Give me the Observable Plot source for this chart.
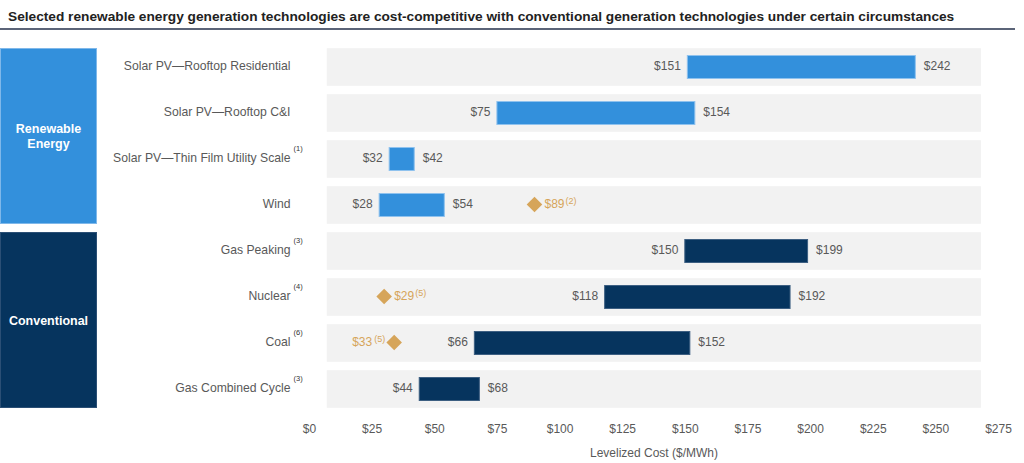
<!DOCTYPE html>
<html>
<head>
<meta charset="utf-8">
<script src="https://cdn.jsdelivr.net/npm/d3@7"></script>
<script src="https://cdn.jsdelivr.net/npm/@observablehq/plot@0.6"></script>
<style>
  html, body { margin: 0; padding: 0; background: #fff; }
  body { width: 1024px; height: 463px; overflow: hidden; font-family: "Liberation Sans", Arial, sans-serif; }
  #title { height: 28px; margin: 0 9px 0 0; border-bottom: 2px solid #5b6478; font-weight: bold; font-size: 13.7px; color: #222; padding-left: 8px; line-height: 34px; box-sizing: content-box; }
  #chart { margin-top: 3px; }
  #chart svg { display: block; }
</style>
</head>
<body>
<div id="title">Selected renewable energy generation technologies are cost-competitive with conventional generation technologies under certain circumstances</div>
<div id="chart"></div>
<script>
// ---- data ----
const categories = [
  "Solar PV\u2014Rooftop Residential",
  "Solar PV\u2014Rooftop C&I",
  "Solar PV\u2014Thin Film Utility Scale",
  "Wind",
  "Gas Peaking",
  "Nuclear",
  "Coal",
  "Gas Combined Cycle"
];
const groupOf = ["Renewable", "Renewable", "Renewable", "Renewable", "Conventional", "Conventional", "Conventional", "Conventional"];
const lowCost = [151, 75, 32, 28, 150, 118, 66, 44];
const highCost = [242, 154, 42, 54, 199, 192, 152, 68];
const footnotes = ["", "", "(1)", "", "(3)", "(4)", "(6)", "(3)"];

const markerCats = ["Wind", "Nuclear", "Coal"];
const markerValues = [89, 29, 33];
const markerNotes = ["(2)", "(5)", "(5)"];
const markerSide = ["right", "right", "left"];

const groupNames = ["Renewable", "Conventional"];
const groupLabels = [["Renewable", "Energy"], ["Conventional"]];

const xTicks = [0, 25, 50, 75, 100, 125, 150, 175, 200, 225, 250, 275];

// ---- build tables ----
const rows = categories.map((c, i) => ({cat: c, group: groupOf[i], low: lowCost[i], high: highCost[i], note: footnotes[i]}));
const markers = markerCats.map((c, i) => ({cat: c, value: markerValues[i], note: markerNotes[i], side: markerSide[i]}));
const panelExtent = [7.1, 268.2]; // grey row panels (layout)

const colors = {Renewable: "#3390dc", Conventional: "#06345e"};
const gold = "#d6a55a";
const labelGray = "#595959";

const plot = Plot.plot({
  width: 1024,
  height: 430,
  marginLeft: 309,
  marginRight: 26,
  marginTop: 9,
  marginBottom: 50,
  style: {fontFamily: "'Liberation Sans', Arial, sans-serif", fontSize: "12px", color: labelGray, background: "transparent"},
  x: {domain: [0, 275]},
  y: {domain: categories, padding: 0},
  marks: [
    Plot.barX(rows, {y: "cat", x1: () => panelExtent[0], x2: () => panelExtent[1], fill: "#f2f2f2", insetTop: 4.2, insetBottom: 4.2}),
    Plot.barX(rows, {y: "cat", x1: "low", x2: "high", fill: d => colors[d.group], stroke: d => d.group === "Renewable" ? "#8fc2ee" : "#3d5f82", strokeWidth: 1, insetTop: 11.5, insetBottom: 11.5}),
    Plot.text(rows, {y: "cat", x: "low", text: d => "$" + d.low, textAnchor: "end", dx: -7, dy: -1, fill: labelGray, fontSize: 12}),
    Plot.text(rows, {y: "cat", x: "high", text: d => "$" + d.high, textAnchor: "start", dx: 8, dy: -1, fill: labelGray, fontSize: 12}),
    Plot.text(rows.filter(d => d.note), {y: "cat", frameAnchor: "left", text: "note", textAnchor: "start", dx: -16, dy: -11, fontSize: 7.5, fill: "#333"}),
    Plot.dot(markers, {y: "cat", x: "value", symbol: "diamond2", r: 7, fill: gold, stroke: "none", dx: 2, dy: -1}),
    Plot.text(markers.filter(d => d.side === "right"), {y: "cat", x: "value", text: d => "$" + d.value, textAnchor: "start", dx: 12, dy: -1, fill: gold, fontSize: 12}),
    Plot.text(markers.filter(d => d.side === "right"), {y: "cat", x: "value", text: "note", textAnchor: "start", dx: 33, dy: -4, fill: gold, fontSize: 9}),
    Plot.text(markers.filter(d => d.side === "left"), {y: "cat", x: "value", text: d => "$" + d.value, textAnchor: "end", dx: -20, dy: -1, fill: gold, fontSize: 12}),
    Plot.text(markers.filter(d => d.side === "left"), {y: "cat", x: "value", text: "note", textAnchor: "end", dx: -7, dy: -4, fill: gold, fontSize: 9}),
    Plot.axisY({tickSize: 0, tickPadding: 19, fontSize: 12.2, fill: labelGray, label: null, dy: -1}),
    Plot.axisX({ticks: xTicks, tickFormat: d => "$" + d, tickSize: 0, tickPadding: 11, fontSize: 12, fill: labelGray, label: "Levelized Cost ($/MWh)", labelAnchor: "center", labelArrow: "none", labelOffset: 43})
  ]
});

// group boxes drawn from the plot's own y scale
const ys = plot.scale("y");
const svg = d3.select(plot);
const boxes = svg.insert("g", ":first-child");
const inset = 4.5;
groupNames.forEach((g, gi) => {
  const cats = rows.filter(r => r.group === g).map(r => r.cat);
  const y1 = ys.apply(cats[0]) + inset;
  const y2 = ys.apply(cats[cats.length - 1]) + ys.bandwidth - inset;
  boxes.append("rect").attr("x", 0.5).attr("y", y1).attr("width", 96).attr("height", y2 - y1)
    .attr("fill", colors[g]).attr("stroke", g === "Renewable" ? "#7fb8ea" : "#2b4f75").attr("stroke-width", 1);
  const lines = groupLabels[gi];
  const cy = (y1 + y2) / 2;
  lines.forEach((t, li) => {
    boxes.append("text").attr("x", 48.5).attr("y", cy + (li - (lines.length - 1) / 2) * 15)
      .attr("dy", "0.36em").attr("text-anchor", "middle").attr("fill", "#fff")
      .attr("font-weight", "bold").attr("font-size", 12.5).text(t);
  });
});

document.getElementById("chart").appendChild(plot);
</script>
</body>
</html>
